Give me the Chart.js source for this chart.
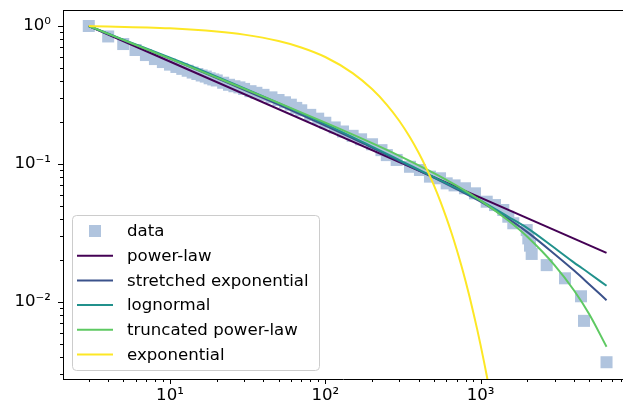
<!DOCTYPE html>
<html>
<head>
<meta charset="utf-8">
<script src="https://cdn.jsdelivr.net/npm/chart.js@4.4.1/dist/chart.umd.min.js"></script>
<style>
  html, body { margin: 0; padding: 0; background: #fff; }
  #wrap { width: 623px; height: 409px; }
</style>
</head>
<body>
<div id="wrap"><canvas id="chart" width="623" height="409"></canvas></div>
<script>
const dataX = [3, 4, 5, 6, 7, 8, 9, 10, 11, 12, 13, 14, 15, 16, 17, 18, 19, 20, 22, 24, 26, 28, 30, 33, 36, 40, 45, 50, 55, 60, 65, 70, 80, 90, 100, 115, 130, 150, 170, 200, 230, 249, 288, 351, 407, 472, 548, 605, 680, 793, 920, 1095, 1238, 1400, 1508, 1624, 1981, 2029, 2080, 2133, 2665, 3496, 4431, 4633, 6470];
const dataY = [1, 0.84, 0.74, 0.67, 0.616, 0.576, 0.548, 0.525, 0.505, 0.489, 0.474, 0.46, 0.449, 0.438, 0.43, 0.418, 0.41, 0.403, 0.388, 0.375, 0.366, 0.359, 0.35, 0.337, 0.328, 0.317, 0.304, 0.291, 0.28, 0.269, 0.255, 0.245, 0.227, 0.213, 0.199, 0.184, 0.172, 0.16, 0.151, 0.139, 0.126, 0.116, 0.107, 0.0955, 0.0905, 0.081, 0.0788, 0.0724, 0.07, 0.0667, 0.0613, 0.0533, 0.0504, 0.0464, 0.0415, 0.0372, 0.0332, 0.0289, 0.0256, 0.0223, 0.0185, 0.01485, 0.011, 0.0073, 0.00366];

// fitted curves
const fitX = [3, 5, 10, 20, 50, 100, 200, 300, 500, 700, 1000, 1500, 2000, 3000, 4000, 5000, 6470];
const powerLawX = [3, 6470];
const powerLawY = [1, 0.0227];
const stretchedY = [1, 0.79, 0.5806, 0.4196, 0.2693, 0.1897, 0.1315, 0.105, 0.0796, 0.0658, 0.0534, 0.0402, 0.0321, 0.0222, 0.01689, 0.01346, 0.01031];
const lognormalY = [1, 0.797, 0.59, 0.43, 0.2762, 0.1945, 0.1337, 0.1068, 0.0803, 0.0669, 0.0543, 0.0416, 0.0343, 0.0246, 0.0193, 0.01617, 0.0131];
const truncatedY = [1, 0.7936, 0.5796, 0.4226, 0.277, 0.1996, 0.1418, 0.1147, 0.0859, 0.0697, 0.0543, 0.0391, 0.02969, 0.01845, 0.01211, 0.00818, 0.00474];
const expX = [3, 10, 20, 30, 50, 70, 100, 150, 200, 250, 300, 350, 400, 450, 500, 550, 600, 650, 700, 750, 800, 850, 900, 950, 1000, 1050, 1100, 1150, 1200];
const expY = [1, 0.963, 0.913, 0.866, 0.778, 0.699, 0.596, 0.456, 0.349, 0.2674, 0.205, 0.1568, 0.12, 0.0919, 0.0703, 0.0539, 0.0412, 0.0316, 0.0242, 0.01852, 0.0142, 0.01086, 0.0083, 0.00636, 0.00487, 0.00373, 0.00286, 0.00219, 0.00168];

const xMajorTicks = [10, 100, 1000];
const xMajorLabels = ['10\u00b9', '10\u00b2', '10\u00b3'];
const yMajorTicks = [0.01, 0.1, 1];
const yMajorLabels = ['10\u207b\u00b2', '10\u207b\u00b9', '10\u2070'];

const xMin = 2.047, xMax = 8260;
const yMin = 0.002767, yMax = 1.306;

function pts(xs, ys) {
  return xs.map((x, i) => ({ x: x, y: ys[i] }));
}

function logTicks(majors, lo, hi) {
  const out = [];
  for (let e = -4; e <= 4; e++) {
    for (let m = 2; m <= 9; m++) {
      const v = m * Math.pow(10, e);
      if (v >= lo && v <= hi) out.push(v);
    }
  }
  majors.forEach(v => out.push(v));
  return out.sort((a, b) => a - b);
}

const isMajor = v => Math.abs(Math.log10(v) - Math.round(Math.log10(v))) < 1e-9;

const frameAndLegend = {
  id: 'frameAndLegend',
  afterDraw(chart) {
    const ctx = chart.ctx;
    const a = chart.chartArea;
    const xs = chart.scales.x, ys = chart.scales.y;
    ctx.save();

    // top spine
    ctx.strokeStyle = '#000';
    ctx.lineWidth = 1;
    ctx.beginPath();
    ctx.moveTo(a.left, Math.round(a.top) + 0.5);
    ctx.lineTo(a.right, Math.round(a.top) + 0.5);
    ctx.stroke();

    // tick marks, long for decades and short in between
    ctx.beginPath();
    xs.ticks.forEach(t => {
      const px = Math.round(xs.getPixelForValue(t.value)) + 0.5;
      const len = isMajor(t.value) ? 5 : 3;
      ctx.moveTo(px, a.bottom);
      ctx.lineTo(px, a.bottom + len);
    });
    ys.ticks.forEach(t => {
      const py = Math.round(ys.getPixelForValue(t.value)) + 0.5;
      const len = isMajor(t.value) ? 5 : 3;
      ctx.moveTo(a.left, py);
      ctx.lineTo(a.left - len, py);
    });
    ctx.stroke();

    // legend in the lower left corner
    const lx = 72, ly = 215, lw = 247, lh = 155;
    ctx.beginPath();
    if (ctx.roundRect) ctx.roundRect(lx + 0.5, ly + 0.5, lw, lh, 4);
    else ctx.rect(lx + 0.5, ly + 0.5, lw, lh);
    ctx.fillStyle = 'rgba(255,255,255,0.8)';
    ctx.fill();
    ctx.strokeStyle = '#cccccc';
    ctx.stroke();

    ctx.font = '16.6px "DejaVu Sans"';
    ctx.textBaseline = 'middle';
    chart.data.datasets.forEach((ds, i) => {
      const cy = 231 + i * 24.7;
      if (ds.showLine) {
        ctx.strokeStyle = ds.borderColor;
        ctx.lineWidth = 2;
        ctx.beginPath();
        ctx.moveTo(77, cy);
        ctx.lineTo(113, cy);
        ctx.stroke();
      } else {
        ctx.fillStyle = ds.backgroundColor;
        ctx.fillRect(89, cy - 6, 12, 12);
      }
      ctx.fillStyle = '#000';
      ctx.fillText(ds.label, 127, cy + 1);
    });
    ctx.restore();
  }
};

Chart.defaults.font.family = '"DejaVu Sans", sans-serif';
Chart.defaults.font.size = 16.6;
Chart.defaults.color = '#000';

const lineDefaults = {
  type: 'scatter',
  showLine: true,
  pointRadius: 0,
  borderWidth: 2,
  fill: false
};

new Chart(document.getElementById('chart'), {
  type: 'scatter',
  data: {
    datasets: [
      {
        label: 'data',
        data: pts(dataX, dataY),
        pointStyle: 'rect',
        pointRadius: 8.5,
        borderWidth: 0,
        backgroundColor: '#b0c4de',
        showLine: false,
        order: 6
      },
      Object.assign({}, lineDefaults, {
        label: 'power-law',
        data: pts(powerLawX, powerLawY),
        borderColor: '#440154',
        order: 5
      }),
      Object.assign({}, lineDefaults, {
        label: 'stretched exponential',
        data: pts(fitX, stretchedY),
        borderColor: '#3b528b',
        cubicInterpolationMode: 'monotone',
        order: 4
      }),
      Object.assign({}, lineDefaults, {
        label: 'lognormal',
        data: pts(fitX, lognormalY),
        borderColor: '#21918c',
        cubicInterpolationMode: 'monotone',
        order: 3
      }),
      Object.assign({}, lineDefaults, {
        label: 'truncated power-law',
        data: pts(fitX, truncatedY),
        borderColor: '#5ec962',
        cubicInterpolationMode: 'monotone',
        order: 2
      }),
      Object.assign({}, lineDefaults, {
        label: 'exponential',
        data: pts(expX, expY),
        borderColor: '#fde725',
        cubicInterpolationMode: 'monotone',
        order: 1
      })
    ]
  },
  options: {
    responsive: false,
    animation: false,
    devicePixelRatio: 1,
    events: [],
    layout: { autoPadding: false, padding: { top: 10, right: 0, bottom: 0, left: 0 } },
    plugins: {
      legend: { display: false },
      tooltip: { enabled: false }
    },
    scales: {
      x: {
        type: 'logarithmic',
        position: 'bottom',
        min: xMin,
        max: xMax,
        afterBuildTicks: s => { s.ticks = logTicks(xMajorTicks, xMin, xMax).map(v => ({ value: v })); },
        afterFit: s => { s.height = 30; s.paddingLeft = 0; s.paddingRight = 0; },
        grid: { display: true, drawOnChartArea: false, drawTicks: true, tickLength: 7, tickColor: 'rgba(0,0,0,0)' },
        border: { display: true, color: '#000', width: 1 },
        ticks: {
          autoSkip: false,
          maxRotation: 0,
          padding: 0,
          callback: v => {
            const i = xMajorTicks.indexOf(v);
            return i >= 0 ? xMajorLabels[i] : '';
          }
        }
      },
      y: {
        type: 'logarithmic',
        position: 'left',
        min: yMin,
        max: yMax,
        afterBuildTicks: s => { s.ticks = logTicks(yMajorTicks, yMin, yMax).map(v => ({ value: v })); },
        afterFit: s => { s.width = 63; s.paddingTop = 0; s.paddingBottom = 0; },
        grid: { display: true, drawOnChartArea: false, drawTicks: true, tickLength: 12, tickColor: 'rgba(0,0,0,0)' },
        border: { display: true, color: '#000', width: 1 },
        ticks: {
          autoSkip: false,
          padding: 0,
          callback: v => {
            const i = yMajorTicks.indexOf(v);
            return i >= 0 ? yMajorLabels[i] : '';
          }
        }
      }
    }
  },
  plugins: [frameAndLegend]
});
</script>
</body>
</html>
